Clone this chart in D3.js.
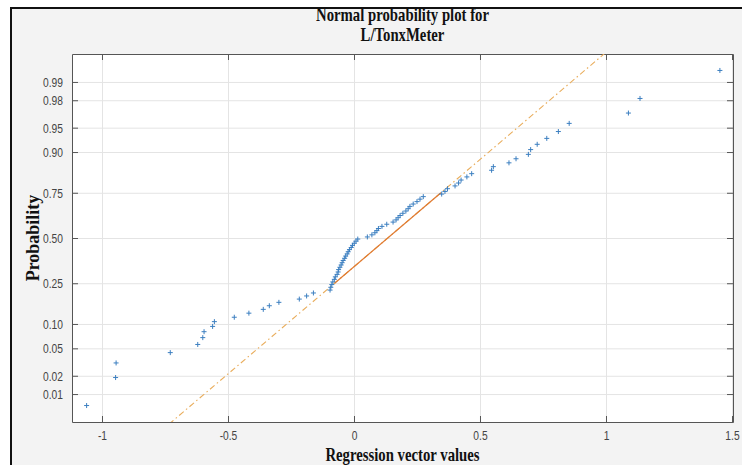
<!DOCTYPE html>
<html><head><meta charset="utf-8">
<script src="https://cdn.jsdelivr.net/npm/d3@7"></script>
<style>html,body{margin:0;padding:0;background:#fff;} svg{display:block;}</style>
</head><body>
<svg id="chart" width="742" height="465"></svg>
<script>
// ---------------- data ----------------
const titleLines = ["Normal probability plot for", "L/TonxMeter"];
const xAxisLabel = "Regression vector values";
const yAxisLabel = "Probability";
const xTickValues = [-1, -0.5, 0, 0.5, 1, 1.5];
const xTickLabels = ["-1", "-0.5", "0", "0.5", "1", "1.5"];
const probTickValues = [0.01, 0.02, 0.05, 0.10, 0.25, 0.50, 0.75, 0.90, 0.95, 0.98, 0.99];
const probTickLabels = ["0.01", "0.02", "0.05", "0.10", "0.25", "0.50", "0.75", "0.90", "0.95", "0.98", "0.99"];
// sorted sample (80 values)
const regressionValues = [
  -1.061, -0.946, -0.944, -0.729, -0.620, -0.600, -0.595, -0.561, -0.554, -0.475,
  -0.417, -0.360, -0.336, -0.298, -0.217, -0.188, -0.161, -0.095, -0.092, -0.088,
  -0.084, -0.078, -0.074, -0.067, -0.063, -0.061, -0.056, -0.051, -0.047, -0.043,
  -0.037, -0.033, -0.027, -0.023, -0.018, -0.011, -0.006, 0.001, 0.008, 0.015,
  0.053, 0.071, 0.083, 0.091, 0.097, 0.111, 0.130, 0.155, 0.167, 0.175,
  0.183, 0.194, 0.206, 0.215, 0.222, 0.235, 0.250, 0.262, 0.275, 0.348,
  0.361, 0.371, 0.401, 0.415, 0.425, 0.448, 0.467, 0.546, 0.553, 0.615,
  0.643, 0.692, 0.701, 0.727, 0.765, 0.811, 0.854, 1.089, 1.135, 1.452
];
// reference line through first and third quartile
const quartileX = [-0.077, 0.345];
const quartileP = [0.25, 0.75];

// ---------------- helpers ----------------
function norminv(p) {
  const a = [-3.969683028665376e+01, 2.209460984245205e+02, -2.759285104469687e+02, 1.383577518672690e+02, -3.066479806614716e+01, 2.506628277459239e+00];
  const b = [-5.447609879822406e+01, 1.615858368580409e+02, -1.556989798598866e+02, 6.680131188771972e+01, -1.328068155288572e+01];
  const c = [-7.784894002430293e-03, -3.223964580411365e-01, -2.400758277161838e+00, -2.549671010115413e+00, 4.374664141464968e+00, 2.938163982698783e+00];
  const d = [7.784695709041462e-03, 3.224671290700398e-01, 2.445134137142996e+00, 3.754408661907416e+00];
  const pl = 0.02425, ph = 1 - pl;
  let q, r;
  if (p < pl) { q = Math.sqrt(-2 * Math.log(p)); return (((((c[0]*q+c[1])*q+c[2])*q+c[3])*q+c[4])*q+c[5]) / ((((d[0]*q+d[1])*q+d[2])*q+d[3])*q+1); }
  if (p > ph) { q = Math.sqrt(-2 * Math.log(1 - p)); return -(((((c[0]*q+c[1])*q+c[2])*q+c[3])*q+c[4])*q+c[5]) / ((((d[0]*q+d[1])*q+d[2])*q+d[3])*q+1); }
  q = p - 0.5; r = q * q;
  return (((((a[0]*r+a[1])*r+a[2])*r+a[3])*r+a[4])*r+a[5])*q / (((((b[0]*r+b[1])*r+b[2])*r+b[3])*r+b[4])*r+1);
}

// ---------------- layout ----------------
const W = 742, H = 465;
const plot = { left: 72, right: 733, top: 54, bottom: 422 };
const SX = 0.82; // horizontal squeeze of the source picture

const svg = d3.select("#chart");
svg.append("rect").attr("x", 0).attr("y", 0).attr("width", W).attr("height", H).attr("fill", "#ffffff");
svg.append("rect").attr("x", 11).attr("y", 8).attr("width", W - 11).attr("height", H - 8).attr("fill", "#f3f3f3");
// outer frame (left and top)
svg.append("line").attr("x1", 11).attr("x2", 11).attr("y1", 7).attr("y2", H).attr("stroke", "#111").attr("stroke-width", 2);
svg.append("line").attr("x1", 10).attr("x2", W).attr("y1", 8).attr("y2", 8).attr("stroke", "#111").attr("stroke-width", 2);

const x = d3.scaleLinear().domain([-1.119, 1.504]).range([plot.left, plot.right]);
const y = d3.scaleLinear().domain([-2.743, 2.743]).range([plot.bottom, plot.top]);
const pw = plot.right - plot.left, ph = plot.bottom - plot.top;

svg.append("rect").attr("x", plot.left).attr("y", plot.top).attr("width", pw).attr("height", ph).attr("fill", "#ffffff");

const probZ = probTickValues.map(norminv);

// grid
const gx = svg.append("g").attr("transform", `translate(0,${plot.bottom})`)
  .call(d3.axisBottom(x).tickValues(xTickValues).tickSize(-ph).tickFormat(""));
gx.select(".domain").remove();
gx.selectAll("line").attr("stroke", "#e4e4e4");
const gy = svg.append("g").attr("transform", `translate(${plot.left},0)`)
  .call(d3.axisLeft(y).tickValues(probZ).tickSize(-pw).tickFormat(""));
gy.select(".domain").remove();
gy.selectAll("line").attr("stroke", "#e4e4e4");

// axes (ticks inside)
const axisColor = "#555";
const bottomAxis = svg.append("g").attr("transform", `translate(0,${plot.bottom})`)
  .call(d3.axisBottom(x).tickValues(xTickValues).tickSizeInner(-6).tickSizeOuter(0)
    .tickFormat((d, i) => xTickLabels[i]));
bottomAxis.selectAll("text").attr("y", 18).attr("dy", 0)
  .attr("transform", `scale(${SX},1)`)
  .attr("font-family", "Liberation Sans, Arial, sans-serif").attr("font-size", 12.5).attr("fill", "#444");
const topAxis = svg.append("g").attr("transform", `translate(0,${plot.top})`)
  .call(d3.axisTop(x).tickValues(xTickValues).tickSizeInner(-6).tickSizeOuter(0).tickFormat(""));
const leftAxis = svg.append("g").attr("transform", `translate(${plot.left},0)`)
  .call(d3.axisLeft(y).tickValues(probZ).tickSizeInner(-6).tickSizeOuter(0)
    .tickFormat((d, i) => probTickLabels[i]));
leftAxis.selectAll("text").attr("x", -9 / SX).attr("dy", "0.36em")
  .attr("transform", `scale(${SX},1)`)
  .attr("font-family", "Liberation Sans, Arial, sans-serif").attr("font-size", 12.5).attr("fill", "#444");
const rightAxis = svg.append("g").attr("transform", `translate(${plot.right},0)`)
  .call(d3.axisRight(y).tickValues(probZ).tickSizeInner(-6).tickSizeOuter(0).tickFormat(""));
[bottomAxis, topAxis, leftAxis, rightAxis].forEach(g => {
  g.select(".domain").attr("stroke", axisColor);
  g.selectAll(".tick line").attr("stroke", axisColor);
});

// clip
svg.append("clipPath").attr("id", "clip").append("rect")
  .attr("x", plot.left).attr("y", plot.top).attr("width", pw).attr("height", ph);
const body = svg.append("g").attr("clip-path", "url(#clip)");

// reference line
const qz = quartileP.map(norminv);
const slope = (qz[1] - qz[0]) / (quartileX[1] - quartileX[0]);
const lineZ = v => qz[0] + (v - quartileX[0]) * slope;
const xmin = d3.min(regressionValues), xmax = d3.max(regressionValues);
body.append("line")
  .attr("x1", x(xmin)).attr("y1", y(lineZ(xmin)))
  .attr("x2", x(xmax)).attr("y2", y(lineZ(xmax)))
  .attr("stroke", "#e9ad5c").attr("stroke-width", 1.1)
  .attr("stroke-dasharray", "6,3,1.5,3");
body.append("line")
  .attr("x1", x(quartileX[0])).attr("y1", y(qz[0]))
  .attr("x2", x(quartileX[1])).attr("y2", y(qz[1]))
  .attr("stroke", "#e07a30").attr("stroke-width", 1.2);

// points (plotting positions (i-0.5)/n)
const n = regressionValues.length;
const pts = regressionValues.map((v, i) => ({ v, z: norminv((i + 0.5) / n) }));
const m = 2.5;
const marks = body.append("g").attr("stroke", "#3c7fc0").attr("stroke-width", 1);
pts.forEach(p => {
  const cx = x(p.v), cy = y(p.z);
  marks.append("line").attr("x1", cx - m).attr("x2", cx + m).attr("y1", cy).attr("y2", cy);
  marks.append("line").attr("x1", cx).attr("x2", cx).attr("y1", cy - m).attr("y2", cy + m);
});

// titles
const cx = (plot.left + plot.right) / 2;
titleLines.forEach((t, i) => {
  svg.append("text").attr("transform", `translate(${cx},${21 + i * 20}) scale(${SX},1)`)
    .attr("text-anchor", "middle").attr("font-family", "Liberation Serif, Times New Roman, serif")
    .attr("font-weight", "bold").attr("font-size", 18).attr("fill", "#111").text(t);
});
svg.append("text").attr("transform", `translate(${cx},461) scale(${SX},1)`)
  .attr("text-anchor", "middle").attr("font-family", "Liberation Serif, Times New Roman, serif")
  .attr("font-weight", "bold").attr("font-size", 18).attr("fill", "#111").text(xAxisLabel);
svg.append("text").attr("transform", `translate(39,${(plot.top + plot.bottom) / 2}) rotate(-90)`)
  .attr("text-anchor", "middle").attr("font-family", "Liberation Serif, Times New Roman, serif")
  .attr("font-weight", "bold").attr("font-size", 18).attr("fill", "#111").text(yAxisLabel);
</script>
</body></html>
